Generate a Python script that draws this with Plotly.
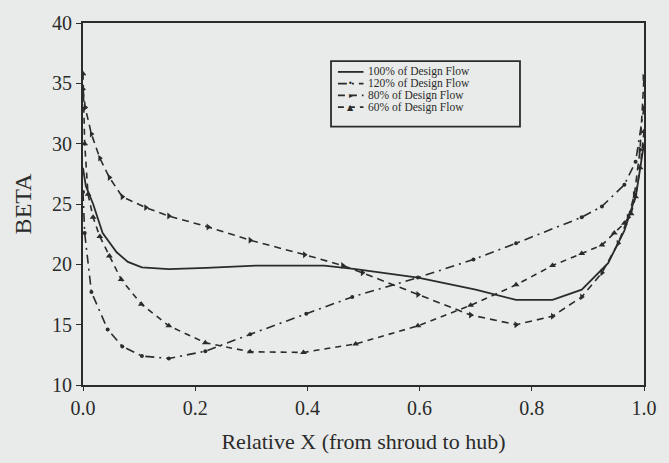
import plotly.graph_objects as go

# 100% of Design Flow (solid)
x100 = [0, 0.005, 0.018, 0.035, 0.06, 0.08, 0.105, 0.153, 0.22, 0.31, 0.43, 0.486, 0.597, 0.7, 0.772, 0.837, 0.889, 0.936, 0.965, 0.986, 1.0]
y100 = [28.0, 26.5, 25.0, 22.6, 21.0, 20.2, 19.75, 19.6, 19.7, 19.9, 19.9, 19.6, 18.9, 17.9, 17.05, 17.05, 17.9, 20.1, 22.8, 25.8, 30.0]

# 120% of Design Flow (dash-dot with dots)
x120 = [0, 0.003, 0.015, 0.044, 0.07, 0.105, 0.153, 0.218, 0.298, 0.398, 0.48, 0.597, 0.696, 0.772, 0.889, 0.925, 0.965, 0.985, 1.0]
y120 = [26.0, 22.6, 17.7, 14.6, 13.2, 12.4, 12.2, 12.8, 14.2, 15.9, 17.3, 18.9, 20.4, 21.75, 23.9, 24.8, 26.6, 28.5, 33.0]

# 80% of Design Flow (dashed with arrow marks)
x80 = [0, 0.004, 0.015, 0.03, 0.047, 0.07, 0.112, 0.153, 0.223, 0.298, 0.395, 0.463, 0.498, 0.597, 0.691, 0.772, 0.837, 0.889, 0.925, 0.954, 0.972, 0.983, 0.993, 1.0]
y80 = [34.5, 33.0, 30.8, 28.8, 27.2, 25.6, 24.7, 24.0, 23.1, 22.0, 20.8, 19.9, 19.3, 17.5, 15.8, 15.0, 15.7, 17.3, 19.3, 21.75, 23.9, 25.8, 29.5, 35.5]

# 60% of Design Flow (dashed with triangles)
x60 = [0, 0.003, 0.009, 0.018, 0.03, 0.047, 0.068, 0.104, 0.153, 0.218, 0.298, 0.393, 0.486, 0.597, 0.691, 0.772, 0.837, 0.889, 0.925, 0.947, 0.965, 0.977, 0.985, 0.993, 1.0]
y60 = [35.8, 30.0, 25.8, 23.9, 22.3, 20.7, 18.75, 16.7, 14.9, 13.5, 12.75, 12.7, 13.4, 14.9, 16.6, 18.3, 19.9, 20.9, 21.6, 22.6, 23.4, 24.2, 25.6, 28.0, 31.0]

x_ticks = [0.0, 0.2, 0.4, 0.6, 0.8, 1.0]
y_ticks = [10, 15, 20, 25, 30, 35, 40]

series_names = ["100% of Design Flow", "120% of Design Flow", "80% of Design Flow", "60% of Design Flow"]
series_dash = ["solid", "9px,5px,2px,5px", "7px,5px", "6px,5px"]
series_symbol = [None, "circle", "triangle-right", "triangle-up"]
series_glyph = ["", "\u2022", "\u25B8", "\u25B2"]
series_x = [x100, x120, x80, x60]
series_y = [y100, y120, y80, y60]

INK = "#2b2b2b"
BG = "#e8ebe9"
FONT = "Liberation Serif"

fig = go.Figure()
for name, xs, ys, dash, sym in zip(series_names, series_x, series_y, series_dash, series_symbol):
    if sym is None:
        fig.add_trace(go.Scatter(x=xs, y=ys, mode="lines", name=name, showlegend=False,
                                 line=dict(color=INK, width=1.8)))
    else:
        fig.add_trace(go.Scatter(x=xs, y=ys, mode="lines+markers", name=name, showlegend=False,
                                 line=dict(color=INK, width=1.6, dash=dash),
                                 marker=dict(symbol=sym, size=6 if sym != "circle" else 4, color=INK)))

# Compact legend box (layout decoration, in plot-area paper coordinates)
def px_x(p):
    return (p - 83) / 570.0

def px_y(p):
    return (385 - p) / 370.0

shapes = [dict(type="rect", xref="paper", yref="paper",
               x0=px_x(335), x1=px_x(527), y0=px_y(121), y1=px_y(54),
               line=dict(color=INK, width=1.8))]
annotations = []
row_y = [65, 77, 89, 101]
for name, dash, glyph, ry in zip(series_names, series_dash, series_glyph, row_y):
    shapes.append(dict(type="line", xref="paper", yref="paper",
                       x0=px_x(342), x1=px_x(368), y0=px_y(ry), y1=px_y(ry),
                       line=dict(color=INK, width=1.8, dash=dash)))
    if glyph:
        annotations.append(dict(xref="paper", yref="paper", x=px_x(355), y=px_y(ry),
                                text=glyph, showarrow=False, xanchor="center", yanchor="middle",
                                font=dict(family="DejaVu Sans", size=8, color=INK)))
    annotations.append(dict(xref="paper", yref="paper", x=px_x(371), y=px_y(ry),
                            text=name, showarrow=False, xanchor="left", yanchor="middle",
                            font=dict(family=FONT, size=11.5, color=INK)))

fig.update_layout(
    width=669, height=463,
    margin=dict(l=83, r=16, t=15, b=78),
    paper_bgcolor=BG, plot_bgcolor=BG,
    font=dict(family=FONT, color=INK, size=20),
    showlegend=False,
    shapes=shapes,
    annotations=annotations,
    xaxis=dict(range=[0, 1], tickvals=x_ticks, tickformat=".1f",
               showline=True, linecolor=INK, linewidth=2, mirror=True,
               ticks="outside", ticklen=4, tickcolor=INK, showgrid=False, zeroline=False,
               tickfont=dict(size=20),
               title=dict(text="Relative X (from shroud to hub)", standoff=16,
                          font=dict(family=FONT, size=22))),
    yaxis=dict(range=[10, 40], tickvals=y_ticks,
               showline=True, linecolor=INK, linewidth=2, mirror=True,
               ticks="outside", ticklen=5, tickcolor=INK, showgrid=False, zeroline=False,
               tickfont=dict(size=20),
               title=dict(text="BETA", standoff=14, font=dict(family=FONT, size=24))),
)

fig.write_html("out.html")
